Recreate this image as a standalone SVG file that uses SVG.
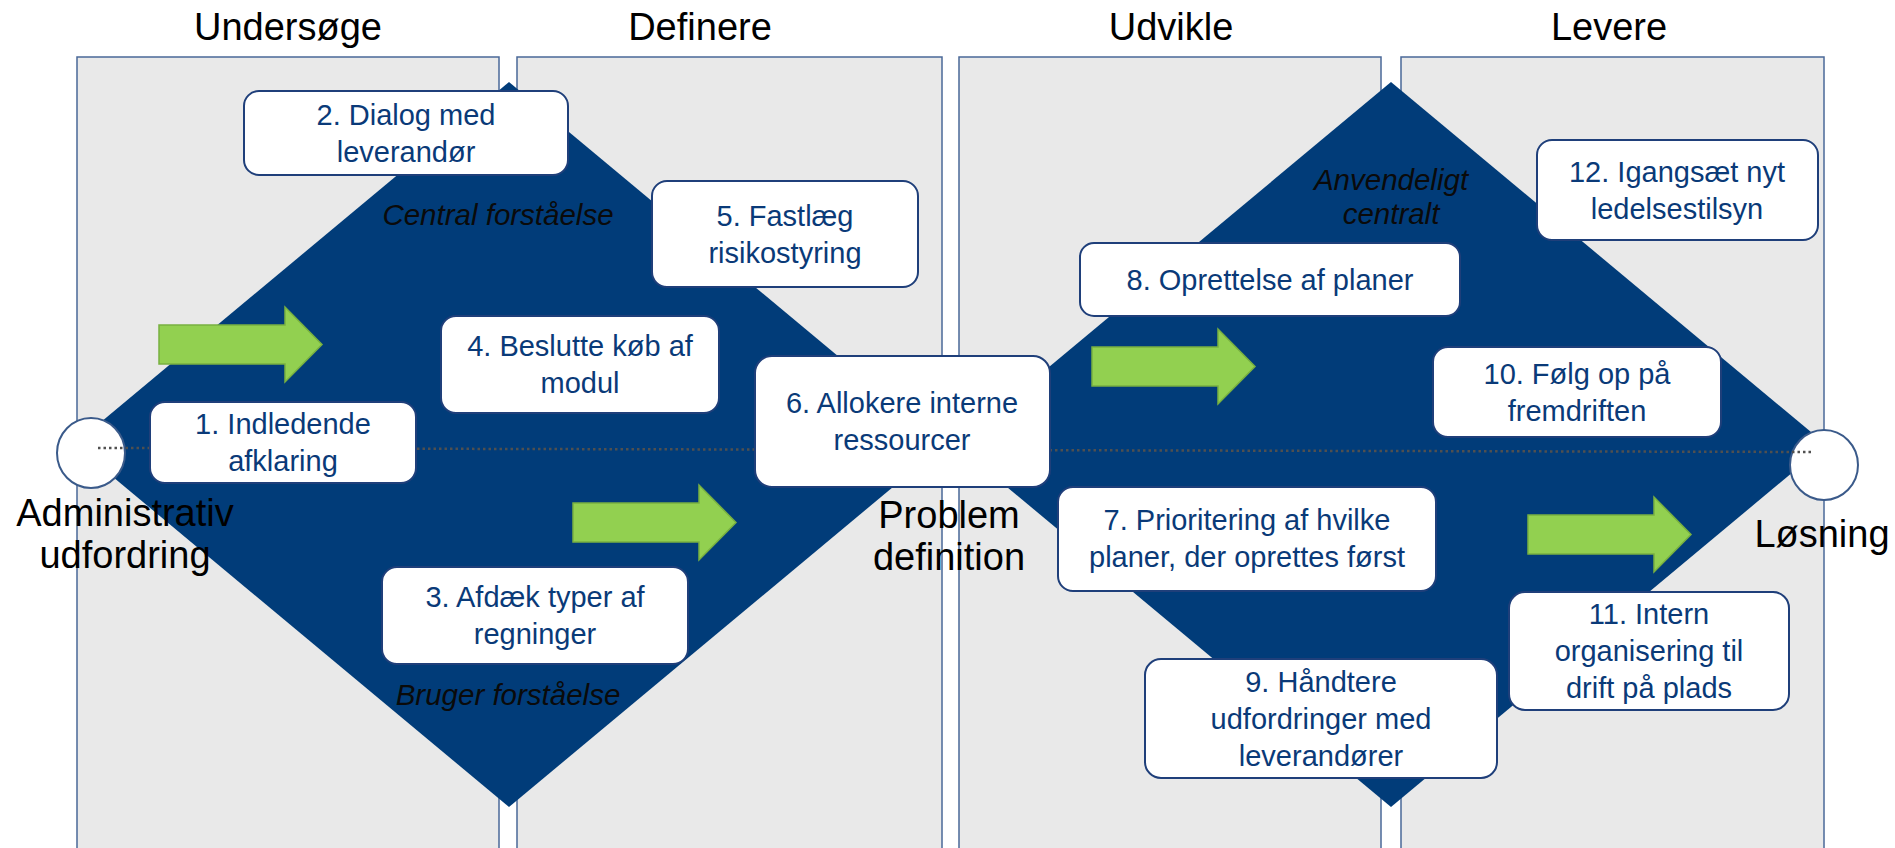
<svg xmlns="http://www.w3.org/2000/svg" xmlns:xlink="http://www.w3.org/1999/xlink" width="1895" height="848" viewBox="0 0 1895 848">
  <style>
    .panel { fill: #e9e9e9; stroke: #4a6898; stroke-width: 1.5; }
    .diamond { fill: #013c79; }
    .title { font-family: "Liberation Sans", Arial, sans-serif; font-size: 38px; fill: #000; text-anchor: middle; }
    .side { font-family: "Liberation Sans", Arial, sans-serif; font-size: 38px; fill: #000; text-anchor: middle; }
    .phase { font-family: "Liberation Sans", Arial, sans-serif; font-size: 29.5px; font-style: italic; fill: #0a0a0a; text-anchor: middle; }
    .box rect { fill: #ffffff; stroke: #1f3f7a; stroke-width: 2; }
    .box text { font-family: "Liberation Sans", Arial, sans-serif; font-size: 29px; fill: #0a3a78; text-anchor: middle; }
    .endpoint { fill: #ffffff; stroke: #3a5a8a; stroke-width: 2; }
    .axis { stroke: #505050; stroke-width: 2.5; stroke-dasharray: 2.5 3; fill: none; }
    .flow { fill: #92d050; stroke: #78b040; stroke-width: 1.5; }
  </style>
  <defs>
    <path id="flow-arrow" d="M0,0 H126 V-18 L163,19.5 L126,57 V39 H0 Z"/>
  </defs>

  <rect width="1895" height="848" fill="#ffffff"/>

  <!-- phase columns -->
  <g id="columns">
    <rect class="panel" x="77" y="57" width="422" height="800"/>
    <rect class="panel" x="517" y="57" width="425" height="800"/>
    <rect class="panel" x="959" y="57" width="422" height="800"/>
    <rect class="panel" x="1401" y="57" width="423" height="800"/>
  </g>

  <g id="column-titles">
    <text class="title" x="288" y="40">Undersøge</text>
    <text class="title" x="700" y="40">Definere</text>
    <text class="title" x="1171" y="40">Udvikle</text>
    <text class="title" x="1609" y="40">Levere</text>
  </g>

  <!-- double diamond -->
  <g id="diamonds">
    <polygon class="diamond" points="509,82 944,444.5 509,807 74,444.5"/>
    <polygon class="diamond" points="1391,82 1826,444.5 1391,807 956,444.5"/>
  </g>

  <g id="start">
    <ellipse class="endpoint" cx="91" cy="453" rx="34" ry="35"/>
  </g>
  <g id="end">
    <ellipse class="endpoint" cx="1824" cy="465" rx="34" ry="35"/>
  </g>

  <g id="connectors">
    <line class="axis" x1="98" y1="448" x2="1812" y2="452"/>
    <use href="#flow-arrow" xlink:href="#flow-arrow" class="flow" transform="translate(159,325)"/>
    <use href="#flow-arrow" xlink:href="#flow-arrow" class="flow" transform="translate(573,503)"/>
    <use href="#flow-arrow" xlink:href="#flow-arrow" class="flow" transform="translate(1092,347)"/>
    <use href="#flow-arrow" xlink:href="#flow-arrow" class="flow" transform="translate(1528,515)"/>
  </g>

  <g id="phase-labels">
    <text class="phase" x="498" y="225">Central forståelse</text>
    <text class="phase" x="508" y="705">Bruger forståelse</text>
    <text class="phase" x="1391" y="190">Anvendeligt</text>
    <text class="phase" x="1391" y="224">centralt</text>
  </g>

  <!-- steps -->
  <g id="step1" class="box">
    <rect x="150" y="402" width="266" height="81" rx="15"/>
    <text x="283" y="434">1. Indledende</text>
    <text x="283" y="471">afklaring</text>
  </g>
  <g id="step2" class="box">
    <rect x="244" y="91" width="324" height="84" rx="15"/>
    <text x="406" y="125">2. Dialog med</text>
    <text x="406" y="162">leverandør</text>
  </g>
  <g id="step3" class="box">
    <rect x="382" y="567" width="306" height="97" rx="15"/>
    <text x="535" y="607">3. Afdæk typer af</text>
    <text x="535" y="644">regninger</text>
  </g>
  <g id="step4" class="box">
    <rect x="441" y="316" width="278" height="97" rx="15"/>
    <text x="580" y="356">4. Beslutte køb af</text>
    <text x="580" y="393">modul</text>
  </g>
  <g id="step5" class="box">
    <rect x="652" y="181" width="266" height="106" rx="15"/>
    <text x="785" y="226">5. Fastlæg</text>
    <text x="785" y="263">risikostyring</text>
  </g>
  <g id="step6" class="box">
    <rect x="755" y="356" width="295" height="131" rx="17"/>
    <text x="902" y="413">6. Allokere interne</text>
    <text x="902" y="450">ressourcer</text>
  </g>
  <g id="step7" class="box">
    <rect x="1058" y="487" width="378" height="104" rx="15"/>
    <text x="1247" y="530">7. Prioritering af hvilke</text>
    <text x="1247" y="567">planer, der oprettes først</text>
  </g>
  <g id="step8" class="box">
    <rect x="1080" y="243" width="380" height="73" rx="14"/>
    <text x="1270" y="290">8. Oprettelse af planer</text>
  </g>
  <g id="step9" class="box">
    <rect x="1145" y="659" width="352" height="119" rx="16"/>
    <text x="1321" y="692">9. Håndtere</text>
    <text x="1321" y="729">udfordringer med</text>
    <text x="1321" y="766">leverandører</text>
  </g>
  <g id="step10" class="box">
    <rect x="1433" y="347" width="288" height="90" rx="15"/>
    <text x="1577" y="384">10. Følg op på</text>
    <text x="1577" y="421">fremdriften</text>
  </g>
  <g id="step11" class="box">
    <rect x="1509" y="592" width="280" height="118" rx="16"/>
    <text x="1649" y="624">11. Intern</text>
    <text x="1649" y="661">organisering til</text>
    <text x="1649" y="698">drift på plads</text>
  </g>
  <g id="step12" class="box">
    <rect x="1537" y="140" width="281" height="100" rx="15"/>
    <text x="1677" y="182">12. Igangsæt nyt</text>
    <text x="1677" y="219">ledelsestilsyn</text>
  </g>

  <!-- milestone labels -->
  <g id="milestones">
    <text class="side" x="125" y="526">Administrativ</text>
    <text class="side" x="125" y="568">udfordring</text>
    <text class="side" x="949" y="528">Problem</text>
    <text class="side" x="949" y="570">definition</text>
    <text class="side" x="1822" y="547">Løsning</text>
  </g>
</svg>
